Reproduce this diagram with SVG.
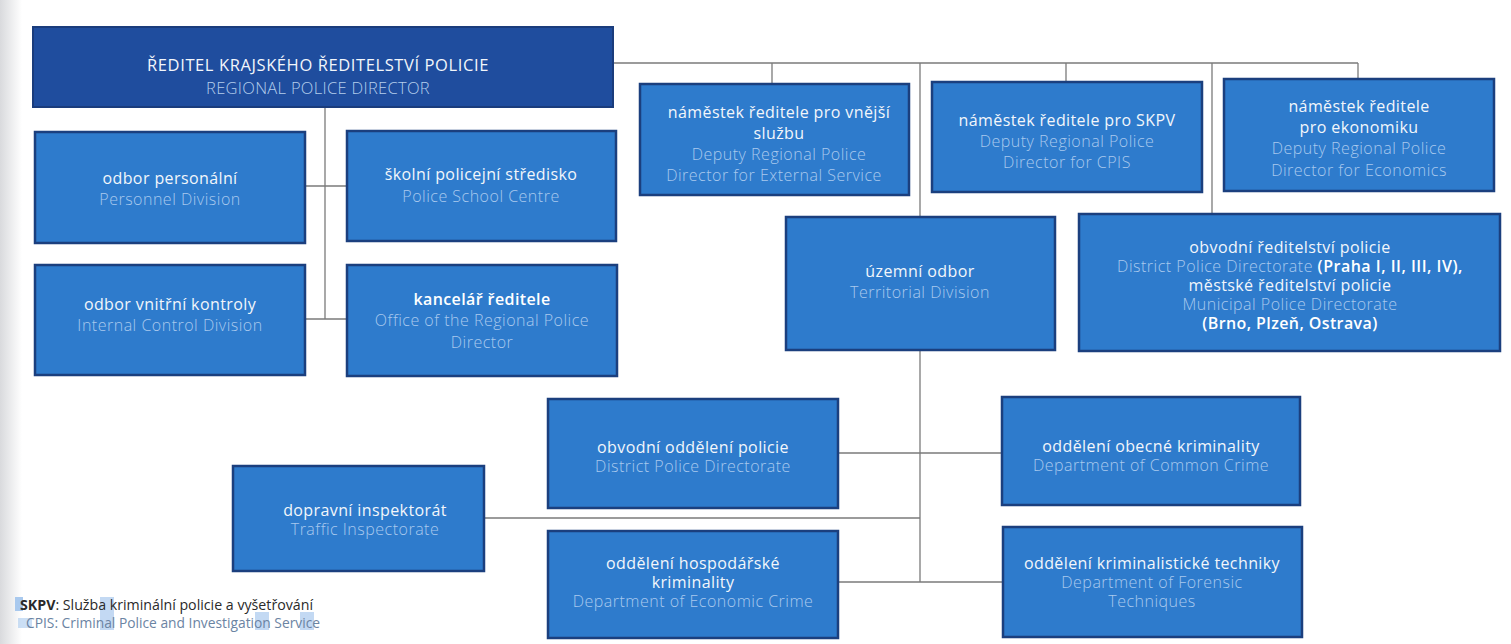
<svg xmlns="http://www.w3.org/2000/svg" width="1511" height="644" viewBox="0 0 1511 644">
<defs>
<style>
.bg{fill:#ffffff}
.box{fill:#2e7bcc;stroke:#1b3f7e;stroke-width:2.5}
.head{fill:#1f4d9e;stroke:#1a3c7c;stroke-width:2}
.cz{font-family:"Open Sans","Noto Sans","Liberation Sans",sans-serif;font-size:16px;letter-spacing:0.4px;fill:#f2f6fb;text-anchor:middle}
.en{font-family:"Open Sans","Noto Sans","Liberation Sans",sans-serif;font-size:16px;letter-spacing:0.5px;fill:#a9c9ee;text-anchor:middle;font-weight:300}
.hcz{font-family:"Open Sans","Noto Sans","Liberation Sans",sans-serif;font-size:16.5px;letter-spacing:0.6px;fill:#f2f6fb;text-anchor:middle}
.hen{font-family:"Open Sans","Noto Sans","Liberation Sans",sans-serif;font-size:16.5px;letter-spacing:0.3px;fill:#b4cdec;text-anchor:middle;font-weight:300}
.b{font-weight:600;fill:#ffffff}
.ln{stroke:#7a7a7a;stroke-width:1.3;fill:none}
.fn{font-family:"Open Sans","Noto Sans","Liberation Sans",sans-serif;font-size:14.2px;fill:#2a2a2a}
.fn2{font-family:"Open Sans","Noto Sans","Liberation Sans",sans-serif;font-size:13.8px;fill:#6b84a3}
</style>
<linearGradient id="edge" x1="0" y1="0" x2="1" y2="0">
<stop offset="0" stop-color="#d9dadd"/>
<stop offset="1" stop-color="#ffffff"/>
</linearGradient>
</defs>
<rect class="bg" x="0" y="0" width="1511" height="644"/>
<rect x="0" y="0" width="22" height="644" fill="url(#edge)"/>

<g id="connectors">
<path class="ln" d="M613 63 H1358"/>
<path class="ln" d="M772 63 V84"/>
<path class="ln" d="M920 63 V217"/>
<path class="ln" d="M1066 63 V82"/>
<path class="ln" d="M1212 63 V214"/>
<path class="ln" d="M1358 63 V79"/>
<path class="ln" d="M325 107 V319"/>
<path class="ln" d="M305 186 H347"/>
<path class="ln" d="M305 319 H347"/>
<path class="ln" d="M920 350 V582"/>
<path class="ln" d="M838 453 H1002"/>
<path class="ln" d="M484 518 H920"/>
<path class="ln" d="M838 582 H1003"/>
</g>

<g id="director">
<rect class="head" x="33" y="27" width="580" height="80"/>
<text class="hcz" x="318" y="71">ŘEDITEL KRAJSKÉHO ŘEDITELSTVÍ POLICIE</text>
<text class="hen" x="318" y="94">REGIONAL POLICE DIRECTOR</text>
</g>

<g id="personnel">
<rect class="box" x="35" y="132" width="270" height="111"/>
<text class="cz" x="170" y="184">odbor personální</text>
<text class="en" x="170" y="205">Personnel Division</text>
</g>

<g id="school">
<rect class="box" x="347" y="131" width="269" height="110"/>
<text class="cz" x="481" y="180">školní policejní středisko</text>
<text class="en" x="481" y="202">Police School Centre</text>
</g>

<g id="internal">
<rect class="box" x="35" y="265" width="270" height="110"/>
<text class="cz" x="170" y="310">odbor vnitřní kontroly</text>
<text class="en" x="170" y="331">Internal Control Division</text>
</g>

<g id="office">
<rect class="box" x="347" y="265" width="270" height="111"/>
<text class="cz b" x="482" y="305">kancelář ředitele</text>
<text class="en" x="482" y="326">Office of the Regional Police</text>
<text class="en" x="482" y="348">Director</text>
</g>

<g id="deputy-external">
<rect class="box" x="640" y="84" width="269" height="111"/>
<text class="cz" x="779" y="118">náměstek ředitele pro vnější</text>
<text class="cz" x="779" y="139">službu</text>
<text class="en" x="779" y="160">Deputy Regional Police</text>
<text class="en" x="774" y="181">Director for External Service</text>
</g>

<g id="deputy-skpv">
<rect class="box" x="932" y="82" width="270" height="110"/>
<text class="cz" x="1067" y="126">náměstek ředitele pro SKPV</text>
<text class="en" x="1067" y="147">Deputy Regional Police</text>
<text class="en" x="1067" y="168">Director for CPIS</text>
</g>

<g id="deputy-economics">
<rect class="box" x="1224" y="79" width="270" height="112"/>
<text class="cz" x="1359" y="112">náměstek ředitele</text>
<text class="cz" x="1359" y="133">pro ekonomiku</text>
<text class="en" x="1359" y="154">Deputy Regional Police</text>
<text class="en" x="1359" y="176">Director for Economics</text>
</g>

<g id="territorial">
<rect class="box" x="786" y="217" width="269" height="133"/>
<text class="cz" x="920" y="277">územní odbor</text>
<text class="en" x="920" y="298">Territorial Division</text>
</g>

<g id="district-directorate">
<rect class="box" x="1079" y="214" width="421" height="137"/>
<text class="cz" x="1290" y="253">obvodní ředitelství policie</text>
<text x="1290" y="272" class="en"><tspan>District Police Directorate </tspan><tspan style="font-weight:600;fill:#ffffff">(Praha I, II, III, IV),</tspan></text>
<text class="cz" x="1290" y="291">městské ředitelství policie</text>
<text class="en" x="1290" y="310">Municipal Police Directorate</text>
<text class="cz b" x="1290" y="329">(Brno, Plzeň, Ostrava)</text>
</g>

<g id="district-department">
<rect class="box" x="548" y="399" width="290" height="109"/>
<text class="cz" x="693" y="453">obvodní oddělení policie</text>
<text class="en" x="693" y="472">District Police Directorate</text>
</g>

<g id="traffic">
<rect class="box" x="233" y="466" width="251" height="105"/>
<text class="cz" x="365" y="516">dopravní inspektorát</text>
<text class="en" x="365" y="535">Traffic Inspectorate</text>
</g>

<g id="economic-crime">
<rect class="box" x="548" y="531" width="290" height="107"/>
<text class="cz" x="693" y="569">oddělení hospodářské</text>
<text class="cz" x="693" y="588">kriminality</text>
<text class="en" x="693" y="607">Department of Economic Crime</text>
</g>

<g id="common-crime">
<rect class="box" x="1002" y="397" width="298" height="108"/>
<text class="cz" x="1151" y="452">oddělení obecné kriminality</text>
<text class="en" x="1151" y="471">Department of Common Crime</text>
</g>

<g id="forensic">
<rect class="box" x="1003" y="527" width="299" height="110"/>
<text class="cz" x="1152" y="569">oddělení kriminalistické techniky</text>
<text class="en" x="1152" y="588">Department of Forensic</text>
<text class="en" x="1152" y="607">Techniques</text>
</g>

<g id="footnote">
<rect x="15" y="597" width="8" height="14" fill="#a9c9ee"/>
<rect x="100" y="597" width="14" height="33" fill="#a9c9ee" opacity="0.7"/>
<rect x="255" y="612" width="14" height="18" fill="#a9c9ee" opacity="0.7"/>
<rect x="300" y="612" width="14" height="18" fill="#a9c9ee" opacity="0.7"/>
<rect x="18" y="618" width="14" height="10" fill="#a9c9ee" opacity="0.6"/>
<text class="fn" x="20" y="610"><tspan font-weight="700">SKPV</tspan>: Služba kriminální policie a vyšetřování</text>
<text class="fn2" x="26" y="628">CPIS: Criminal Police and Investigation Service</text>
</g>
</svg>
